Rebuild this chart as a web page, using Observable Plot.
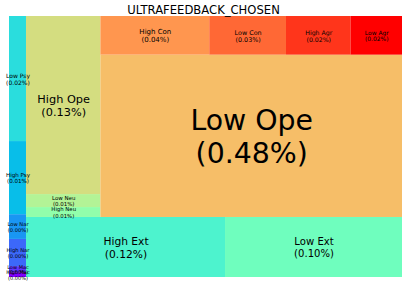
<!DOCTYPE html>
<html><head><meta charset="utf-8">
<script src="https://cdn.jsdelivr.net/npm/d3@7"></script>
<script src="https://cdn.jsdelivr.net/npm/@observablehq/plot@0.6"></script>
<style>
body{margin:0;background:#fff;font-family:"DejaVu Sans",sans-serif}
#title{position:relative;z-index:1;height:16px;line-height:20px;font-size:11.6px;text-align:center;overflow:visible;color:#000;white-space:nowrap}
</style></head><body>
<div id="title"></div>
<div id="chart"></div>
<script>
const title = "ULTRAFEEDBACK_CHOSEN";
const labels = ["High Mac","Low Mac","High Nar","Low Nar","High Psy","Low Psy","High Ext","Low Ext",
                "High Neu","Low Neu","High Ope","Low Ope","High Con","Low Con","High Agr","Low Agr"];
const values = [0.0008,0.0010,0.0045,0.0041,0.0121,0.0207,0.1164,0.1035,
                0.0072,0.0094,0.1291,0.4770,0.0410,0.0289,0.0243,0.0194];

// port of python squarify
function layoutrow(s,x,y,dx,dy){const w=d3.sum(s)/dy;const r=[];for(const v of s){r.push({x,y,dx:w,dy:v/w});y+=v/w;}return r;}
function layoutcol(s,x,y,dx,dy){const h=d3.sum(s)/dx;const r=[];for(const v of s){r.push({x,y,dx:v/h,dy:h});x+=v/h;}return r;}
function layout(s,x,y,dx,dy){return dx>=dy?layoutrow(s,x,y,dx,dy):layoutcol(s,x,y,dx,dy);}
function leftover(s,x,y,dx,dy){const a=d3.sum(s);if(dx>=dy){const w=a/dy;return [x+w,y,dx-w,dy];}const h=a/dx;return [x,y+h,dx,dy-h];}
function worst(s,x,y,dx,dy){return d3.max(layout(s,x,y,dx,dy),r=>Math.max(r.dx/r.dy,r.dy/r.dx));}
function squarify(s,x,y,dx,dy){
  if(!s.length) return [];
  if(s.length===1) return layout(s,x,y,dx,dy);
  let i=1;
  while(i<s.length && worst(s.slice(0,i),x,y,dx,dy)>=worst(s.slice(0,i+1),x,y,dx,dy)) i++;
  const cur=s.slice(0,i), rem=s.slice(i);
  const [lx,ly,ldx,ldy]=leftover(cur,x,y,dx,dy);
  return layout(cur,x,y,dx,dy).concat(squarify(rem,lx,ly,ldx,ldy));
}
const total=d3.sum(values);
const rects=squarify(values.map(v=>v*10000/total),0,0,100,100);
const rows=rects.map((r,i)=>({label:labels[i],value:values[i],i,x1:r.x,x2:r.x+r.dx,y1:r.y,y2:r.y+r.dy}));

const rainbow=t=>d3.rgb(Math.min(1,Math.abs(2*t-0.5))*255,Math.sin(Math.PI*t)*255,Math.cos(Math.PI*t/2)*255).toString();

document.getElementById("title").textContent=title;
const chart=Plot.plot({
  width:407,height:269,marginLeft:9,marginRight:5,marginTop:0,marginBottom:8,
  style:{fontFamily:"DejaVu Sans",background:"transparent"},
  x:{domain:[0,100],axis:null},
  y:{domain:[0,100],axis:null},
  color:{type:"linear",domain:[0,labels.length-1],interpolate:rainbow},
  marks:[
    Plot.rect(rows,{x1:"x1",x2:"x2",y1:"y1",y2:"y2",fill:"i"}),
    Plot.text(rows,{x:d=>(d.x1+d.x2)/2,y:d=>(d.y1+d.y2)/2,
      text:d=>`${d.label}\n(${d.value.toFixed(2)}%)`,
      fontSize:d=>5+49*d.value,lineHeight:1.15,fill:"black"})
  ]
});
document.getElementById("chart").appendChild(chart);
</script>
</body></html>
